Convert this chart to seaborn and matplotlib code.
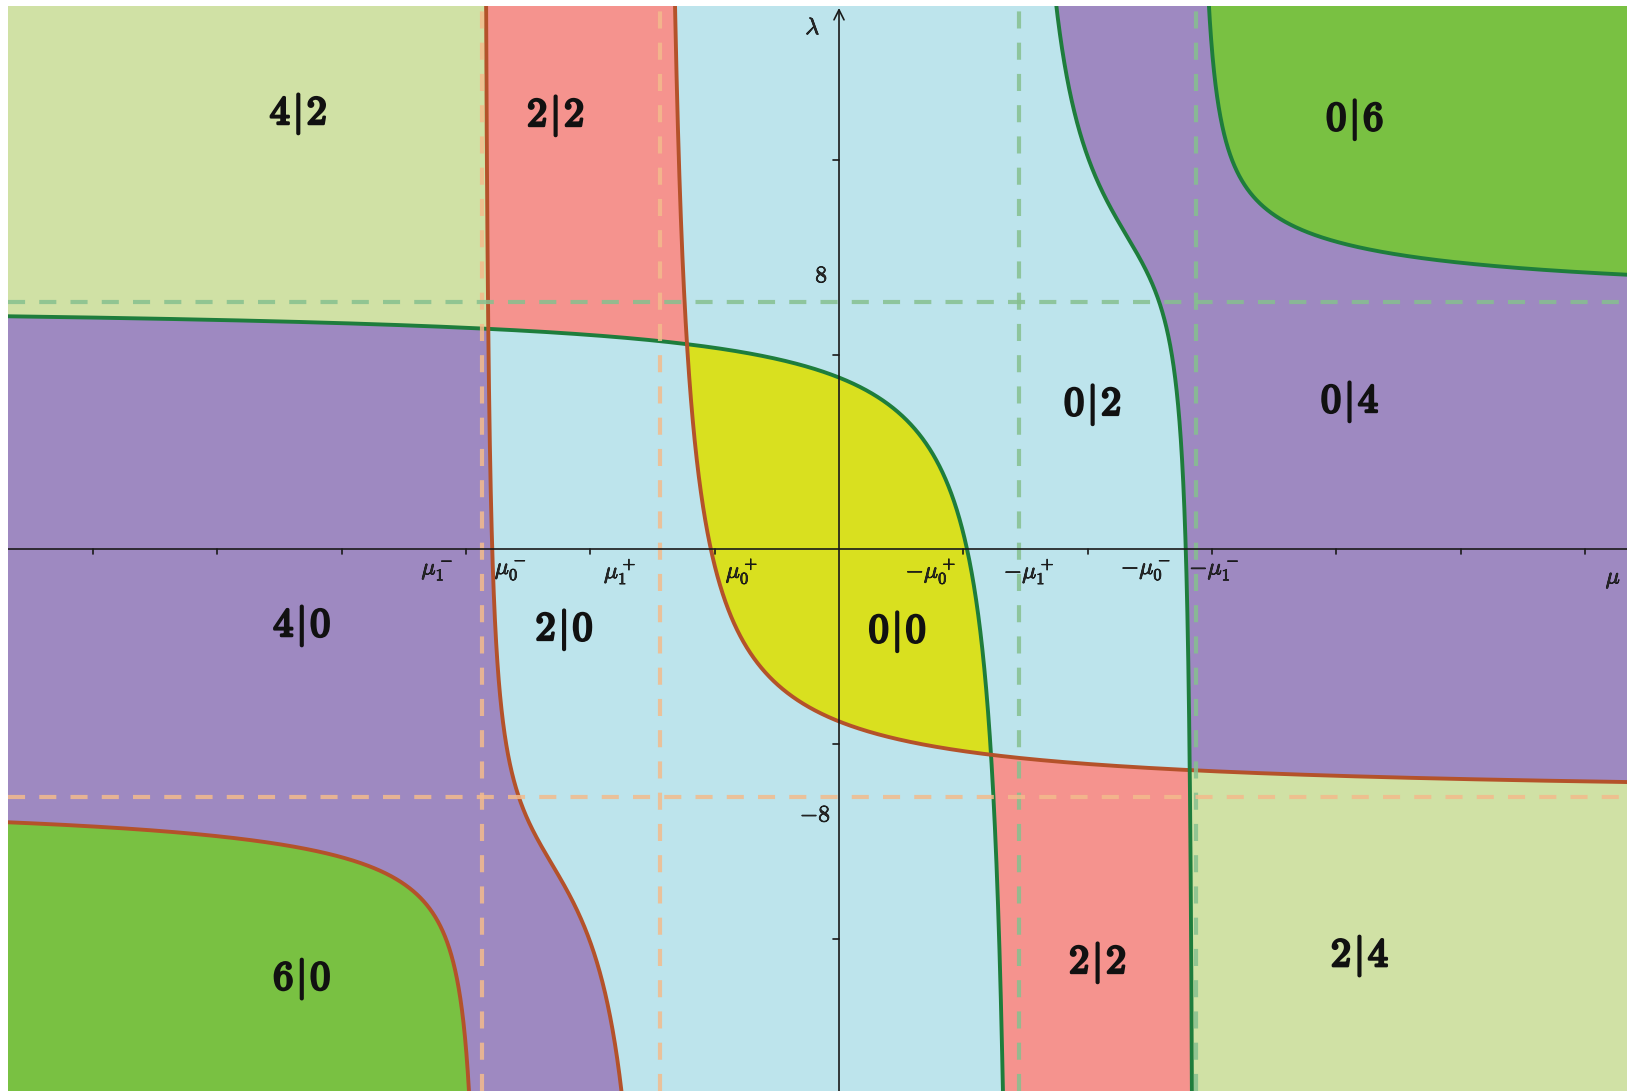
import numpy as np
import matplotlib.pyplot as plt
import matplotlib.patheffects as pe
import seaborn as sns
from matplotlib.colors import ListedColormap

sns.set_style("white")
plt.rcParams['mathtext.fontset'] = 'cm'
plt.rcParams['font.family'] = ['DejaVu Serif']

# green curve: lam = lam_asym + bend*(mu - mu_zero)/((mu - m1)(mu - m2))
# the orange curve is the same curve mirrored through the origin
mu_asym = [1.444, 2.868]      # -mu_1^+ , -mu_1^-
lam_asym = 7.64
mu_zero = 2.575
bend = 3.76

# view window
mu_lim = [-6.685, 6.339]
lam_lim = [-16.70, 16.76]

mu_ticks = [-6, -5, -4, -3, -2, -1, 1, 2, 3, 4, 5, 6]
lam_ticks = [-12, -6, 6, 12]

region_text = ['4|2', '2|2', '0|6', '0|2', '0|4', '4|0', '2|0', '0|0', '6|0', '2|2', '2|4']
region_mu = [-4.35, -2.28, 4.15, 2.04, 4.11, -4.32, -2.21, 0.47, -4.32, 2.08, 4.19]
region_lam = [13.43, 13.37, 13.25, 4.46, 4.55, -2.36, -2.48, -2.54, -13.25, -12.75, -12.54]

tick_text = [r'$\mu_1^-$', r'$\mu_0^-$', r'$\mu_1^+$', r'$\mu_0^+$',
             r'$-\mu_0^+$', r'$-\mu_1^+$', r'$-\mu_0^-$', r'$-\mu_1^-$']
tick_mu = [-3.23, -2.64, -1.76, -0.78, 0.74, 1.53, 2.47, 3.02]

# colour of a region, keyed by (orange count, green count)
region_colors = ['#d9e01f', '#bde4ec', '#f5938e', '#9e89c1', '#d0e1a5', '#79c142', '#ffffff']
color_of = {(0, 0): 0, (1, 0): 1, (0, 1): 1, (1, 1): 2, (2, 0): 3, (0, 2): 3,
            (2, 1): 4, (1, 2): 4, (3, 0): 5, (0, 3): 5}

green_line = '#1e7d3c'
orange_line = '#b4522a'
green_dash = '#86c08f'
orange_dash = '#f3bb8c'


def green_curve(m):
    m1, m2 = mu_asym
    with np.errstate(divide='ignore', invalid='ignore'):
        return lam_asym + bend * (m - mu_zero) / ((m - m1) * (m - m2))


def green_count(m, l):
    side = (m > mu_asym[0]).astype(int) + (m > mu_asym[1]).astype(int)
    return side + (l > green_curve(m)).astype(int)


fig = plt.figure(figsize=(16.27, 10.91), dpi=100)
ax = fig.add_axes([8 / 1627, 0, 1 - 8 / 1627, 1 - 6 / 1091])

# regions
mu_grid = np.linspace(mu_lim[0], mu_lim[1], 2200)
lam_grid = np.linspace(lam_lim[0], lam_lim[1], 1500)
M, L = np.meshgrid(mu_grid, lam_grid)
n_g = green_count(M, L)
n_o = green_count(-M, -L)
cls = np.full(M.shape, 6)
for (a, b), k in color_of.items():
    cls[(n_o == a) & (n_g == b)] = k
ax.imshow(cls, origin='lower', extent=[mu_lim[0], mu_lim[1], lam_lim[0], lam_lim[1]],
          cmap=ListedColormap(region_colors), vmin=-0.5, vmax=6.5,
          interpolation='nearest', aspect='auto', zorder=0)

# the curves, one branch at a time
edges = [mu_lim[0] - 1, mu_asym[0], mu_asym[1], mu_lim[1] + 1]
for i in range(3):
    m = np.linspace(edges[i], edges[i + 1], 60000)[1:-1]
    l = green_curve(m)
    keep = np.abs(l) < 19
    m, l = m[keep], l[keep]
    sns.lineplot(x=m, y=l, ax=ax, sort=False, estimator=None, color=green_line,
                 linewidth=2.8, zorder=3)
    sns.lineplot(x=-m, y=-l, ax=ax, sort=False, estimator=None, color=orange_line,
                 linewidth=2.8, zorder=3)

# dashed asymptotes
dash = (0, (4.1, 3.4))
for v in mu_asym:
    ax.axvline(v, color=green_dash, lw=3, ls=dash, alpha=0.85, zorder=4)
    ax.axvline(-v, color=orange_dash, lw=3, ls=dash, alpha=0.85, zorder=4)
ax.axhline(lam_asym, color=green_dash, lw=3, ls=dash, alpha=0.85, zorder=4)
ax.axhline(-lam_asym, color=orange_dash, lw=3, ls=dash, alpha=0.85, zorder=4)

# coordinate axes
ax.axhline(0, color='#1a1a1a', lw=1.2, zorder=5)
ax.annotate('', xy=(0, 16.70), xytext=(0, lam_lim[0]),
            arrowprops=dict(arrowstyle='->', lw=1.2, color='#1a1a1a', mutation_scale=18,
                            shrinkA=0, shrinkB=0), zorder=5)
for t in mu_ticks:
    ax.plot([t, t], [0, -0.13], color='#1a1a1a', lw=1.2, zorder=5)
for t in lam_ticks:
    ax.plot([-0.045, 0], [t, t], color='#1a1a1a', lw=1.2, zorder=5)

thin = [pe.withStroke(linewidth=0.5, foreground='black')]
for s, x in zip(tick_text, tick_mu):
    ax.text(x, -0.66, s, fontsize=17, ha='center', va='center', zorder=6, path_effects=thin)
ax.text(6.23, -0.91, r'$\mu$', fontsize=17, ha='center', va='center', zorder=6, path_effects=thin)
ax.text(-0.21, 16.09, r'$\lambda$', fontsize=17, ha='center', va='center', zorder=6,
        path_effects=thin)
ax.text(-0.14, 8.44, r'$8$', fontsize=17, ha='center', va='center', zorder=6, path_effects=thin)
ax.text(-0.19, -8.19, r'$-8$', fontsize=17, ha='center', va='center', zorder=6,
        path_effects=thin)

bold = [pe.withStroke(linewidth=1.8, foreground='#111111')]
for s, x, y in zip(region_text, region_mu, region_lam):
    a, b = s.split('|')
    ax.text(x, y, r'$%s\hspace{0.08}|\hspace{0.08}%s$' % (a, b), fontsize=29, color='#111111',
            ha='center', va='center', zorder=6, path_effects=bold)

ax.set_xlim(mu_lim)
ax.set_ylim(lam_lim)
ax.axis('off')

fig.savefig('out.png', dpi=100)
